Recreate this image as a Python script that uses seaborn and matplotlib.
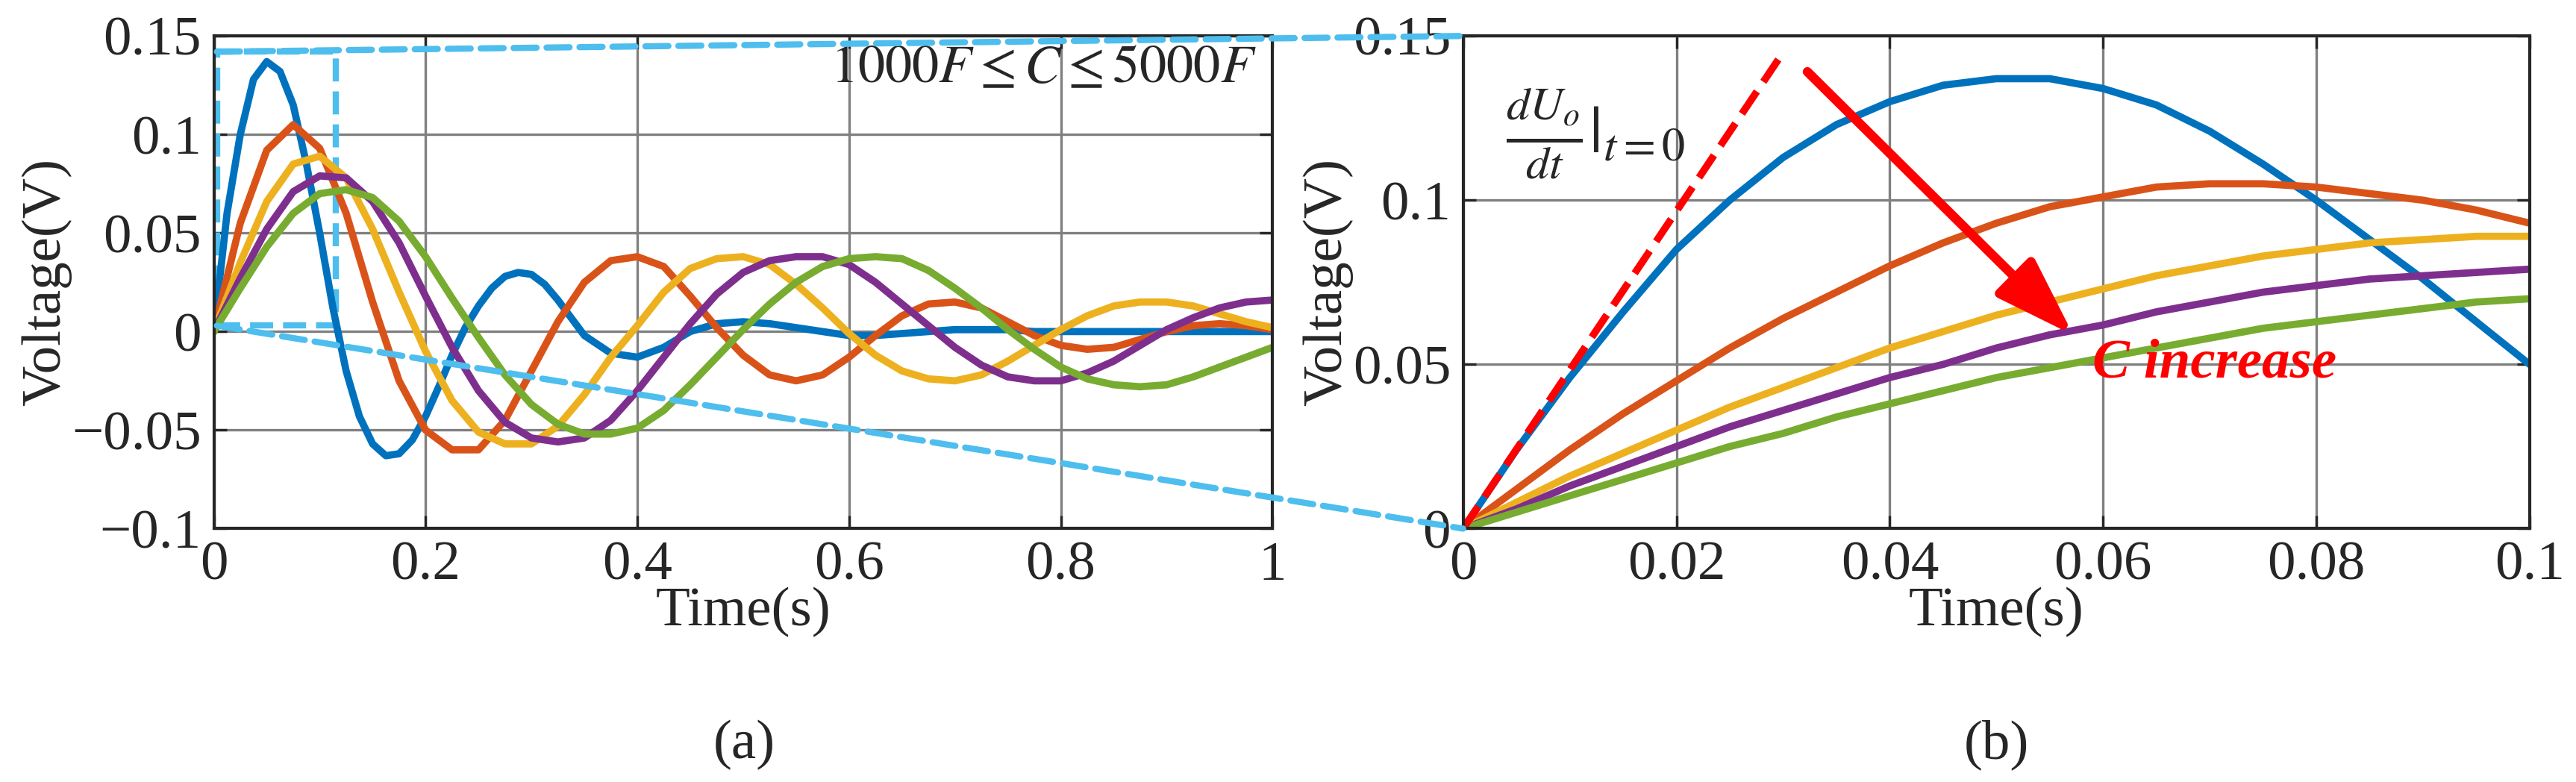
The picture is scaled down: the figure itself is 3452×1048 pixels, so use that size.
import numpy as np
import matplotlib.pyplot as plt
import seaborn as sns
import pandas as pd
from matplotlib.patches import ConnectionPatch, Rectangle

# Time grids and read-off voltage values for each capacitance
t_full = np.round(np.linspace(0, 1, 41), 4)
t_full_c1 = np.round(np.concatenate([np.linspace(0, 0.3375, 28), np.linspace(0.35, 1, 27)]), 4)
t_zoom = np.round(np.linspace(0, 0.1, 21), 4)

v_full_c1 = [0, .06, .10, .128, .137, .132, .115, .085, .05, .012, -.02, -.043, -.057, -.063, -.062, -.055,
             -.043, -.028, -.012, .002, .013, .022, .028, .03, .029, .024, .016, .007,
             -.002, -.011, -.013, -.008, 0, .004, .005, .004, .002, 0, -.002, -.002, -.001, 0, .001, .001,
             .001, 0, 0, 0, 0, 0, 0, 0, 0, 0, 0]
v_full_c2 = [0, .055, .092, .105, .093, .06, .015, -.025, -.05, -.06, -.06, -.045, -.02, .005, .025, .036,
             .038, .033, .018, .002, -.012, -.022, -.025, -.022, -.013, -.002, .008, .014, .015, .012, .005,
             -.002, -.007, -.009, -.008, -.004, 0, .003, .004, .003, .001]
v_full_c3 = [0, .035, .066, .085, .089, .078, .052, .02, -.01, -.035, -.051, -.057, -.057, -.048, -.032,
             -.013, .003, .02, .032, .037, .038, .034, .024, .012, -.001, -.012, -.02, -.024, -.025, -.022,
             -.015, -.007, .001, .008, .013, .015, .015, .013, .009, .005, .002]
v_full_c4 = [0, .027, .052, .071, .079, .078, .066, .045, .018, -.008, -.03, -.046, -.054, -.056, -.054,
             -.045, -.03, -.013, .004, .019, .03, .036, .038, .038, .034, .025, .014, .003, -.008, -.017,
             -.023, -.025, -.025, -.021, -.015, -.007, .001, .007, .012, .015, .016]
v_full_c5 = [0, .022, .043, .06, .07, .072, .068, .056, .038, .017, -.003, -.022, -.037, -.047, -.052,
             -.052, -.049, -.04, -.027, -.013, .001, .014, .025, .033, .037, .038, .037, .031, .022, .012,
             .001, -.009, -.018, -.024, -.027, -.028, -.027, -.023, -.018, -.013, -.008]

v_zoom_c1 = [0, .024, .046, .066, .085, .100, .113, .123, .130, .135, .137, .137, .134, .129, .121, .111,
             .1, .088, .076, .063, .05]
v_zoom_c2 = [0, .012, .024, .035, .045, .055, .064, .072, .080, .087, .093, .098, .101, .104, .105, .105,
             .104, .102, .1, .097, .093]
v_zoom_c3 = [0, .008, .016, .023, .03, .037, .043, .049, .055, .060, .065, .069, .073, .077, .080, .083,
             .085, .087, .088, .089, .089]
v_zoom_c4 = [0, .006, .013, .019, .025, .031, .036, .041, .046, .050, .055, .059, .062, .066, .069, .072,
             .074, .076, .077, .078, .079]
v_zoom_c5 = [0, .005, .01, .015, .02, .025, .029, .034, .038, .042, .046, .049, .052, .055, .058, .061,
             .063, .065, .067, .069, .07]

series = ["C1", "C2", "C3", "C4", "C5"]
df_full = pd.DataFrame({"t": np.concatenate([t_full_c1, np.tile(t_full, 4)]),
                        "v": v_full_c1 + v_full_c2 + v_full_c3 + v_full_c4 + v_full_c5,
                        "C": ["C1"] * len(t_full_c1) + list(np.repeat(series[1:], len(t_full)))})
df_zoom = pd.DataFrame({"t": np.tile(t_zoom, 5), "v": v_zoom_c1 + v_zoom_c2 + v_zoom_c3 + v_zoom_c4 + v_zoom_c5,
                        "C": np.repeat(series, len(t_zoom))})

# MATLAB default line colours
palette = dict(zip(series, ["#0072BD", "#D95319", "#EDB120", "#7E2F8E", "#77AC30"]))

sns.set_theme(style="ticks")
plt.rcParams.update({'font.family': ['Liberation Serif', 'DejaVu Serif'], 'mathtext.fontset': 'stix',
                     'font.size': 27, 'axes.linewidth': 1.5})

fig = plt.figure(figsize=(17.26, 5.24), dpi=200)
ax1 = fig.add_axes([0.083, 0.324, 0.411, 0.63])
ax2 = fig.add_axes([0.568, 0.324, 0.414, 0.63])

for ax, df in [(ax1, df_full), (ax2, df_zoom)]:
    sns.lineplot(data=df, x="t", y="v", hue="C", palette=palette, linewidth=3.5, legend=False, sort=True,
                 ax=ax)
    ax.grid(True, color="#808080", linewidth=1.2)
    ax.tick_params(direction="in", labelsize=27, length=6, width=1.2, top=True, right=True, pad=6)
    ax.set_xlabel("Time(s)", fontsize=27, labelpad=-2)
    ax.set_ylabel("Voltage(V)", fontsize=27, labelpad=0)

ax1.set_xlim(0, 1)
ax1.set_ylim(-0.1, 0.15)
ax1.set_xticks([0, 0.2, 0.4, 0.6, 0.8, 1])
ax1.set_xticklabels(["0", "0.2", "0.4", "0.6", "0.8", "1"])
ax1.set_yticks([-0.1, -0.05, 0, 0.05, 0.1, 0.15])
ax1.set_yticklabels(["\u22120.1", "\u22120.05", "0", "0.05", "0.1", "0.15"])
ax1.text(0.985, 0.133, r"$1000F \leq C \leq 5000F$", ha="right", va="center", fontsize=26)

ax2.set_xlim(0, 0.1)
ax2.set_ylim(0, 0.15)
ax2.set_xticks([0, 0.02, 0.04, 0.06, 0.08, 0.1])
ax2.set_xticklabels(["0", "0.02", "0.04", "0.06", "0.08", "0.1"])
ax2.set_yticks([0, 0.05, 0.1, 0.15])
ax2.set_yticklabels(["0", "0.05", "0.1", "0.15"])

# Initial slope tangent and annotation
ax2.plot([0, 0.03], [0, 0.145], color="#FF0000", linestyle="--", linewidth=3.5)
ax2.text(0.004, 0.12, r"$\frac{dU_o}{dt}|_{t=0}$", fontsize=32, va="center")
ax2.annotate("", xy=(0.0575, 0.058), xytext=(0.032, 0.14),
             arrowprops=dict(arrowstyle="-|>,head_width=0.4,head_length=1.2", color="#FF0000", linewidth=4.5))
ax2.text(0.059, 0.046, "C increase", color="#FF0000", fontsize=27, fontweight="bold", fontstyle="italic")

# Zoom box and connector lines
zoom_col = "#4DBEEE"
ax1.add_patch(Rectangle((0.003, 0.003), 0.112, 0.139, fill=False, edgecolor=zoom_col, linestyle="--",
                        linewidth=3, clip_on=False))
for y_from, y_to in [(0.142, 0.15), (0.003, 0.0)]:
    con = ConnectionPatch(xyA=(0.003, y_from), coordsA=ax1.transData, xyB=(0, y_to), coordsB=ax2.transData,
                          color=zoom_col, linestyle="--", linewidth=3)
    fig.add_artist(con)

fig.text(0.289, 0.03, "(a)", ha="center", fontsize=27)
fig.text(0.775, 0.03, "(b)", ha="center", fontsize=27)

plt.savefig("out.png", dpi=200)
